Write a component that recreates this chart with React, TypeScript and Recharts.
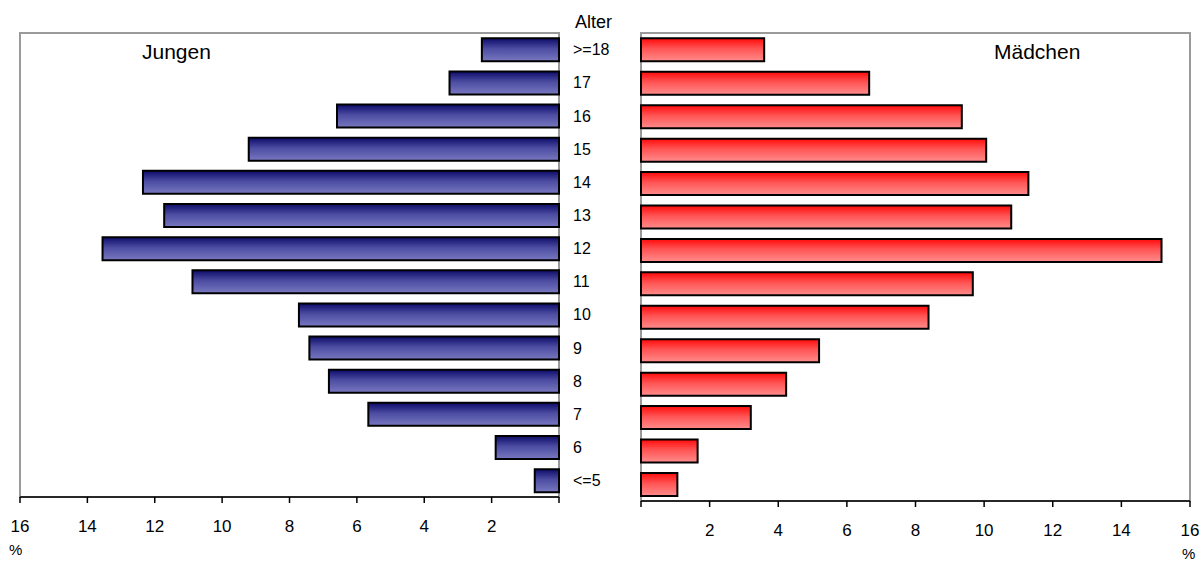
import { BarChart, Bar, XAxis, YAxis, ReferenceArea } from "recharts";

const ages = [">=18", "17", "16", "15", "14", "13", "12", "11", "10", "9", "8", "7", "6", "<=5"];
const jungen = [2.29, 3.25, 6.59, 9.21, 12.35, 11.72, 13.55, 10.88, 7.72, 7.41, 6.83, 5.66, 1.88, 0.72];
const maedchen = [3.59, 6.65, 9.35, 10.06, 11.29, 10.79, 15.17, 9.67, 8.38, 5.19, 4.23, 3.2, 1.65, 1.06];
const xTicks = [0, 2, 4, 6, 8, 10, 12, 14, 16];

const rows = ages.map((age, i) => ({ age, jungen: jungen[i], maedchen: maedchen[i] }));

const font = '"Liberation Sans", Arial, sans-serif';
const tickFmt = (v: number) => (v === 0 ? "" : String(v));
const tickStyle = { fontSize: 17, fill: "#000", fontFamily: font };

export default function App() {
  return (
    <div style={{ position: "absolute", left: 0, top: 0, width: 1201, height: 562, background: "#fff", fontFamily: font }}>
      <div style={{ position: "absolute", left: 0, top: 0 }}>
        <BarChart
          width={640}
          height={562}
          data={rows}
          layout="vertical"
          margin={{ top: 33, right: 0, bottom: 35, left: 20 }}
          barCategoryGap="16%"
        >
          <defs>
            <linearGradient id="blueGrad" x1="0" y1="0" x2="0" y2="1">
              <stop offset="0%" stopColor="#0c0c6a" />
              <stop offset="45%" stopColor="#4c4ca2" />
              <stop offset="100%" stopColor="#7878c0" />
            </linearGradient>
          </defs>
          <XAxis
            type="number"
            domain={[0, 16]}
            ticks={xTicks}
            reversed
            height={30}
            tickFormatter={tickFmt}
            tick={tickStyle}
            tickSize={6}
            tickMargin={17}
            axisLine={{ stroke: "#000", strokeWidth: 1.5 }}
            tickLine={{ stroke: "#000", strokeWidth: 1.5 }}
          />
          <YAxis
            type="category"
            dataKey="age"
            orientation="right"
            width={81}
            axisLine={false}
            tickLine={false}
            tickSize={6}
            tickMargin={8}
            interval={0}
            tick={{ fontSize: 16, fill: "#000", fontFamily: font, textAnchor: "start" }}
          />
          <ReferenceArea x1={0} x2={16} fill="none" stroke="#9a9a9a" strokeWidth={2} />
          <Bar dataKey="jungen" fill="url(#blueGrad)" stroke="#000" strokeWidth={2} isAnimationActive={false} />
        </BarChart>
      </div>
      <div style={{ position: "absolute", left: 631, top: 0 }}>
        <BarChart
          width={570}
          height={562}
          data={rows}
          layout="vertical"
          margin={{ top: 33, right: 11, bottom: 31, left: 10 }}
          barCategoryGap="16%"
        >
          <defs>
            <linearGradient id="redGrad" x1="0" y1="0" x2="0" y2="1">
              <stop offset="0%" stopColor="#ff0a0a" />
              <stop offset="45%" stopColor="#ff5454" />
              <stop offset="100%" stopColor="#ff8c8c" />
            </linearGradient>
          </defs>
          <XAxis
            type="number"
            domain={[0, 16]}
            ticks={xTicks}
            height={30}
            tickFormatter={tickFmt}
            tick={tickStyle}
            tickSize={6}
            tickMargin={17}
            axisLine={{ stroke: "#000", strokeWidth: 1.5 }}
            tickLine={{ stroke: "#000", strokeWidth: 1.5 }}
          />
          <YAxis type="category" dataKey="age" hide />
          <ReferenceArea x1={0} x2={16} fill="none" stroke="#9a9a9a" strokeWidth={2} />
          <Bar dataKey="maedchen" fill="url(#redGrad)" stroke="#000" strokeWidth={2} isAnimationActive={false} />
        </BarChart>
      </div>
      <svg width={1201} height={562} style={{ position: "absolute", left: 0, top: 0, pointerEvents: "none" }}>
        <text x={142} y={58.7} fontSize={21} fontFamily={font} fill="#000">Jungen</text>
        <text x={994} y={58.7} fontSize={21} fontFamily={font} fill="#000">Mädchen</text>
        <text x={575} y={28.3} fontSize={18} fontFamily={font} fill="#000">Alter</text>
        <text x={9} y={555} fontSize={15} fontFamily={font} fill="#000">%</text>
        <text x={1182} y={559} fontSize={15} fontFamily={font} fill="#000">%</text>
      </svg>
    </div>
  );
}
